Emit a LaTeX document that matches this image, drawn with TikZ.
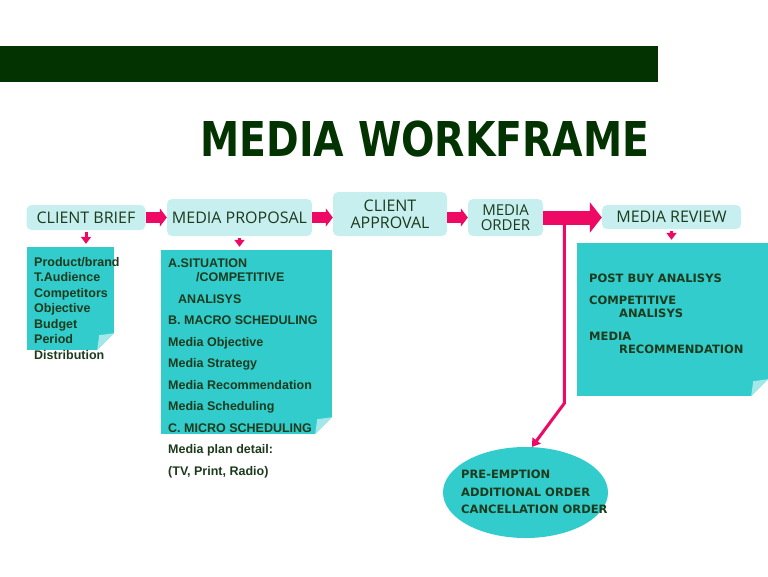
\documentclass[tikz,border=0pt]{standalone}
\usepackage{fontspec}
\setmainfont{Liberation Sans}
\newfontfamily\titlefont[FakeStretch=0.82]{DejaVu Sans}
\newfontfamily\headfont{Open Sans}
\newfontfamily\capsfont{DejaVu Sans}
\usetikzlibrary{arrows.meta,positioning,calc,shapes.geometric}
\definecolor{WfGreen}{HTML}{033300}
\definecolor{WfInk}{HTML}{1C3A1C}
\definecolor{WfTeal}{HTML}{33CCCC}
\definecolor{WfPale}{HTML}{C8EFEF}
\definecolor{WfPink}{HTML}{EE0A64}
\tikzset{
  figtitle/.style={font=\titlefont\bfseries\fontsize{48}{50}\selectfont, text=WfGreen, inner sep=0pt},
  headbox/.style={fill=WfPale, rounded corners=5pt, inner sep=0pt, align=center,
                  font=\headfont\fontsize{16}{16}\selectfont, text=WfInk},
  notebox/.style={fill=WfTeal, inner sep=0pt},
  notetext/.style={font=\bfseries\fontsize{12.5}{15.5}\selectfont, text=WfInk,
                   align=left, inner sep=0pt, anchor=north west},
  capstext/.style={font=\capsfont\bfseries\fontsize{11.5}{13}\selectfont, text=WfInk,
                   align=left, inner sep=0pt, anchor=north west},
  flow/.style={-{Triangle[length=7pt,width=18pt]}, line width=11pt, WfPink},
  bigflow/.style={-{Triangle[length=12pt,width=30pt]}, line width=14pt, WfPink},
  drop/.style={-{Triangle[length=7pt,width=10pt]}, line width=3pt, WfPink,
               shorten <=2pt, shorten >=3pt},
  branch/.style={-{Triangle[length=8pt,width=10pt]}, line width=3pt, WfPink},
}

\begin{document}
\begin{tikzpicture}[x=1pt,y=-1pt]

  % \foldnote{node}: peeled corner at the lower right
  \newcommand{\foldnote}[1]{%
    \fill[white] (#1.south east) -- ++(-17,0) -- ++(17,-17) -- cycle;
    \fill[WfTeal!45!white] (#1.south east) ++(-17,0) -- ++(17,-17) -- ++(-15,2) -- cycle;
  }

  \useasboundingbox (0,0) rectangle (768,576);

  % top band and title
  \fill[WfGreen] (0,46) rectangle (658,82);
  \node[figtitle] (title) at (425,139) {MEDIA WORKFRAME};

  % stage boxes
  \node[headbox, minimum width=119pt, minimum height=25pt] (brief) at (86,217.5) {CLIENT BRIEF};
  \node[headbox, minimum width=145pt, minimum height=37pt] (proposal) at (239.5,217.5) {MEDIA PROPOSAL};
  \node[headbox, minimum width=114pt, minimum height=44pt,
        font=\headfont\fontsize{16}{17}\selectfont] (approval) at (390,214) {CLIENT\\APPROVAL};
  \node[headbox, minimum width=75pt, minimum height=37pt,
        font=\headfont\fontsize{15}{15}\selectfont] (order) at (505.5,217.5) {MEDIA\\ORDER};
  \node[headbox, minimum width=139pt, minimum height=24pt] (review) at (671.5,217) {MEDIA REVIEW};

  % notes under the stages
  \node[notebox, minimum width=87pt, minimum height=103pt] (brief-note) at (70.5,298.5) {};
  \node[notebox, minimum width=171pt, minimum height=184pt] (proposal-note) at (246.5,342) {};
  \node[notebox, minimum width=191pt, minimum height=153pt] (review-note) at (672.5,319.5) {};
  \foldnote{brief-note}
  \foldnote{proposal-note}
  \foldnote{review-note}
  \node[ellipse, notebox, minimum width=165pt, minimum height=91pt] (extra) at (525.5,492.5) {};

  \node[notetext] (brief-text) at (34,257)
    {Product/brand\\T.Audience\\Competitors\\Objective\\Budget\\Period\\Distribution};
  \node[notetext, font=\bfseries\fontsize{12.5}{21.5}\selectfont] (proposal-text) at (168,259)
    {A.SITUATION\\[-7.5pt]\hspace*{28pt}/COMPETITIVE\\\hspace*{10pt}ANALISYS\\
     B. MACRO SCHEDULING\\Media Objective\\Media Strategy\\Media Recommendation\\
     Media Scheduling\\C. MICRO SCHEDULING\\Media plan detail:\\(TV, Print, Radio)};
  \node[capstext] (review-text) at (589,274)
    {POST BUY ANALISYS\\[9pt]COMPETITIVE\\\hspace*{30pt}ANALISYS\\[10pt]
     MEDIA\\\hspace*{30pt}RECOMMENDATION};
  \node[capstext, font=\capsfont\bfseries\fontsize{11.5}{17.5}\selectfont] (extra-text) at (461,470)
    {PRE-EMPTION\\ADDITIONAL ORDER\\CANCELLATION ORDER};

  % flow
  \coordinate (split) at ($(order.east)!0.36!(review.west)$);
  \coordinate (bend) at ($(split)+(0,186)$);
  \draw[branch] (split) -- (bend) -- (extra.82);
  \draw[flow] (brief) -- (proposal);
  \draw[flow] (proposal.east) -- (proposal.east -| approval.west);
  \draw[flow] (approval.east |- order.west) -- (order.west);
  \draw[bigflow] (order.east) -- (order.east -| review.west);
  \draw[drop] (brief.south) -- (brief.south |- brief-note.north);
  \draw[drop] (proposal.south) -- (proposal.south |- proposal-note.north);
  \draw[drop] (review.south) -- (review.south |- review-note.north);

\end{tikzpicture}
\end{document}
